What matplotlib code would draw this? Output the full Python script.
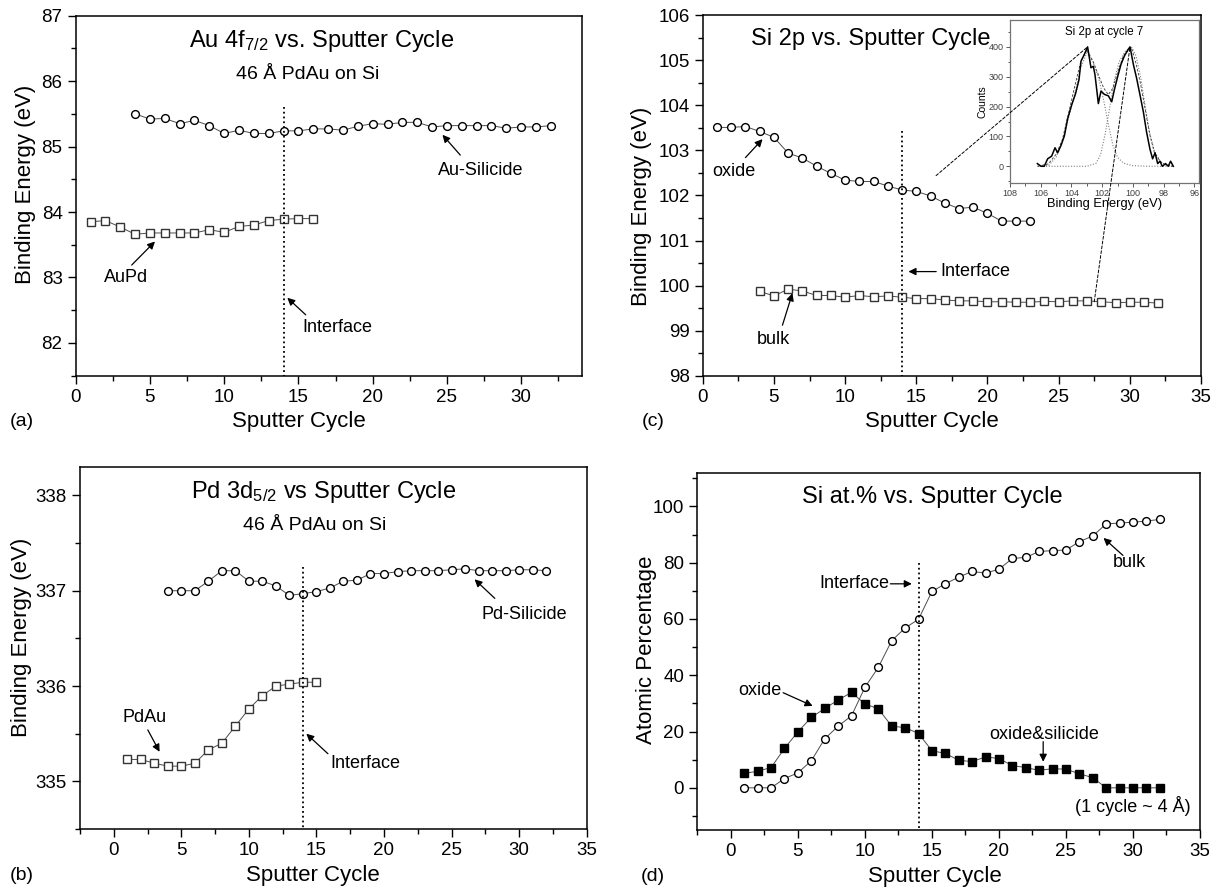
import numpy as np
import matplotlib
matplotlib.use("Agg")
from matplotlib import pyplot as plt
from matplotlib.patches import ConnectionPatch
from matplotlib.ticker import MultipleLocator

plt.rcParams['font.family'] = ['Liberation Sans', 'DejaVu Sans']
plt.rcParams['mathtext.fontset'] = 'custom'
plt.rcParams['mathtext.rm'] = 'Liberation Sans'
plt.rcParams['mathtext.it'] = 'Liberation Sans:italic'

# ---- data ----
# (a) Au 4f7/2
au_sil_x = list(range(4, 33))
au_sil = [85.50, 85.42, 85.43, 85.35, 85.40, 85.32, 85.20, 85.25, 85.20, 85.20,
          85.24, 85.24, 85.27, 85.27, 85.25, 85.31, 85.35, 85.34, 85.37, 85.37,
          85.30, 85.32, 85.32, 85.32, 85.32, 85.28, 85.30, 85.30, 85.32]
au_pd_x = list(range(1, 17))
au_pd = [83.85, 83.87, 83.77, 83.66, 83.68, 83.68, 83.68, 83.68, 83.73, 83.69,
         83.78, 83.80, 83.87, 83.89, 83.90, 83.90]

# (b) Pd 3d5/2
pd_sil_x = list(range(4, 33))
pd_sil = [337.00, 337.00, 337.00, 337.10, 337.21, 337.21, 337.10, 337.10, 337.05,
          336.95, 336.97, 336.99, 337.03, 337.10, 337.11, 337.18, 337.18, 337.20,
          337.21, 337.21, 337.21, 337.22, 337.23, 337.21, 337.21, 337.21, 337.22,
          337.22, 337.21]
pd_au_x = list(range(1, 16))
pd_au = [335.23, 335.23, 335.19, 335.16, 335.16, 335.19, 335.33, 335.40, 335.58,
         335.76, 335.90, 336.00, 336.02, 336.04, 336.04]

# (c) Si 2p
si_ox_x = list(range(1, 24))
si_ox = [103.51, 103.51, 103.53, 103.42, 103.29, 102.94, 102.83, 102.65, 102.49,
         102.34, 102.31, 102.31, 102.21, 102.12, 102.09, 101.99, 101.83, 101.71,
         101.74, 101.60, 101.43, 101.43, 101.43]
si_bulk_x = list(range(4, 33))
si_bulk = [99.87, 99.77, 99.92, 99.88, 99.78, 99.78, 99.74, 99.78, 99.75, 99.77,
           99.74, 99.71, 99.71, 99.68, 99.66, 99.66, 99.64, 99.64, 99.63, 99.63,
           99.65, 99.64, 99.66, 99.66, 99.64, 99.62, 99.63, 99.63, 99.61]

# inset: Si 2p spectrum at cycle 7
spec_be = [106.22, 105.98, 105.77, 105.55, 105.29, 105.07, 104.90, 104.68, 104.46,
           104.25, 103.99, 103.73, 103.51, 103.38, 103.16, 102.95, 102.73, 102.58,
           102.47, 102.25, 102.08, 101.86, 101.60, 101.38, 101.21, 100.99, 100.78,
           100.56, 100.34, 100.19, 99.97, 99.76, 99.54, 99.32, 99.11, 98.89, 98.72,
           98.56, 98.39, 98.24, 98.09, 97.87, 97.70, 97.55, 97.37]
spec_cts = [9, 0, 0, 25, 34, 62, 45, 70, 102, 159, 205, 244, 290, 352, 375, 400, 330,
            335, 307, 210, 252, 241, 236, 216, 256, 301, 341, 369, 389, 400, 341, 295,
            239, 182, 114, 57, 25, 45, 9, 17, 0, 9, 0, 17, 0]
fit_ox_be = [106.2, 105.5, 105.0, 104.6, 104.2, 103.8, 103.4, 103.0, 102.6, 102.2,
             101.9, 101.6, 101.3, 101.0, 100.6, 100.0, 99.0, 97.4]
fit_ox = [0, 2, 30, 80, 160, 240, 330, 380, 350, 290, 220, 140, 70, 30, 10, 2, 0, 0]
fit_si_be = [106.2, 103.0, 102.4, 102.1, 101.8, 101.5, 101.2, 100.9, 100.5, 100.1,
             99.8, 99.5, 99.2, 98.9, 98.6, 98.2, 97.8, 97.4]
fit_si = [0, 0, 10, 40, 110, 200, 290, 350, 385, 400, 370, 300, 200, 110, 50, 15, 3, 0]
fit_sum_be = [106.2, 105.5, 105.0, 104.6, 104.2, 103.8, 103.4, 103.0, 102.6, 102.2,
              101.9, 101.6, 101.3, 101.0, 100.6, 100.1, 99.8, 99.5, 99.2, 98.9,
              98.6, 98.2, 97.8, 97.4]
fit_sum = [0, 8, 40, 88, 175, 265, 350, 390, 352, 300, 262, 240, 262, 315, 372, 398,
           345, 275, 190, 105, 45, 15, 3, 0]

# (d) Si atomic percentage
at_x = list(range(1, 33))
at_bulk = [0, 0, 0, 3.3, 5.3, 9.6, 17.4, 21.9, 25.6, 35.7, 42.8, 52.3, 56.8, 59.9,
           69.8, 72.5, 74.9, 76.9, 76.3, 77.7, 81.5, 81.9, 84.0, 84.3, 84.5, 87.5,
           89.5, 93.8, 94.1, 94.4, 94.8, 95.4]
at_ox = [5.1, 5.9, 7.2, 14.0, 19.9, 25.0, 28.2, 31.2, 33.9, 29.8, 28.1, 21.9, 21.4,
         19.3, 13.2, 12.2, 9.8, 9.3, 11.0, 10.4, 7.9, 7.2, 6.2, 6.8, 6.6, 5.0, 3.6,
         0, 0, 0, 0, 0]

interface = 14

# ---- figure ----
fig = plt.figure(figsize=(12.23, 8.9), dpi=100)
axa = fig.add_axes([0.0619, 0.5779, 0.414, 0.4045])
axb = fig.add_axes([0.0654, 0.0685, 0.4143, 0.4070])
axc = fig.add_axes([0.5746, 0.5779, 0.4074, 0.4050])
axd = fig.add_axes([0.5702, 0.0674, 0.4110, 0.4015])

LW = 0.7
LC = '0.3'
MS = 5.6
open_kw = dict(mfc='white', mec='k', mew=1.0, ms=MS, color=LC, lw=LW)
arrow = dict(arrowstyle='-|>', color='k', lw=0.9, mutation_scale=11,
             shrinkA=0, shrinkB=0)
TFS = 17
SFS = 14
AFS = 13


def style(ax, xlim, ylim, ymaj, ymin, ylabel, yl_pos, xl_pos):
    ax.set_xlim(*xlim)
    ax.set_ylim(*ylim)
    ax.xaxis.set_major_locator(MultipleLocator(5))
    ax.xaxis.set_minor_locator(MultipleLocator(2.5))
    ax.yaxis.set_major_locator(MultipleLocator(ymaj))
    ax.yaxis.set_minor_locator(MultipleLocator(ymin))
    ax.tick_params(which='both', direction='out', top=False, right=False,
                   labelsize=13.5, width=1.0)
    ax.tick_params(which='major', length=6)
    ax.tick_params(which='minor', length=3.5)
    for s in ax.spines.values():
        s.set_linewidth(1.1)
    ax.set_ylabel(ylabel, fontsize=16, va='center')
    ax.yaxis.set_label_coords(*yl_pos)
    ax.set_xlabel('Sputter Cycle', fontsize=16, va='center')
    ax.xaxis.set_label_coords(*xl_pos)


# (a)
axa.plot(au_sil_x, au_sil, marker='o', **open_kw)
axa.plot(au_pd_x, au_pd, marker='s', **dict(open_kw, mec='0.2', ms=5.2))
axa.plot([interface, interface], [85.6, 81.5], 'k:', lw=1.3)
style(axa, (0, 34.1), (81.5, 87), 1, 0.5, 'Binding Energy (eV)',
      (-0.100, 0.53), (0.44, -0.128))
axa.text(0.486, 0.914, r'Au 4f$_\mathrm{7/2}$ vs. Sputter Cycle', transform=axa.transAxes,
         ha='center', va='baseline', fontsize=TFS)
axa.text(0.459, 0.824, '46 Å PdAu on Si', transform=axa.transAxes,
         ha='center', va='baseline', fontsize=SFS)
axa.text(3.4, 83.0, 'AuPd', ha='center', va='center', fontsize=AFS)
axa.annotate('', xy=(5.34, 83.55), xytext=(3.77, 83.19), arrowprops=arrow)
axa.text(17.6, 82.23, 'Interface', ha='center', va='center', fontsize=AFS)
axa.annotate('', xy=(14.25, 82.69), xytext=(15.49, 82.43), arrowprops=arrow)
axa.text(27.3, 84.64, 'Au-Silicide', ha='center', va='center', fontsize=AFS)
axa.annotate('', xy=(24.7, 85.18), xytext=(25.9, 84.87), arrowprops=arrow)

# (b)
axb.plot(pd_sil_x, pd_sil, marker='o', **open_kw)
axb.plot(pd_au_x, pd_au, marker='s', **dict(open_kw, mec='0.2', ms=5.2))
axb.plot([interface, interface], [337.25, 334.5], 'k:', lw=1.3)
style(axb, (-2.5, 35), (334.5, 338.3), 1, 0.5, 'Binding Energy (eV)',
      (-0.115, 0.53), (0.46, -0.127))
axb.text(0.481, 0.913, r'Pd 3d$_\mathrm{5/2}$ vs Sputter Cycle', transform=axb.transAxes,
         ha='center', va='baseline', fontsize=TFS)
axb.text(0.463, 0.825, '46 Å PdAu on Si', transform=axb.transAxes,
         ha='center', va='baseline', fontsize=SFS)
axb.text(2.27, 335.67, 'PdAu', ha='center', va='center', fontsize=AFS)
axb.annotate('', xy=(3.39, 335.31), xytext=(2.52, 335.54), arrowprops=arrow)
axb.text(18.6, 335.19, 'Interface', ha='center', va='center', fontsize=AFS)
axb.annotate('', xy=(14.25, 335.5), xytext=(15.85, 335.29), arrowprops=arrow)
axb.text(30.4, 336.75, 'Pd-Silicide', ha='center', va='center', fontsize=AFS)
axb.annotate('', xy=(26.7, 337.12), xytext=(28.2, 336.92), arrowprops=arrow)

# (c)
axc.plot(si_ox_x, si_ox, marker='o', **open_kw)
axc.plot(si_bulk_x, si_bulk, marker='s', **dict(open_kw, mec='0.2', ms=5.2))
axc.plot([interface, interface], [103.42, 98], 'k:', lw=1.3)
style(axc, (0, 35), (98, 106), 1, 0.5, 'Binding Energy (eV)',
      (-0.122, 0.47), (0.46, -0.128))
axc.text(0.338, 0.918, 'Si 2p vs. Sputter Cycle', transform=axc.transAxes,
         ha='center', va='baseline', fontsize=TFS)
axc.text(2.2, 102.53, 'oxide', ha='center', va='center', fontsize=AFS)
axc.annotate('', xy=(4.2, 103.25), xytext=(3.0, 102.84), arrowprops=arrow)
axc.text(5.0, 98.8, 'bulk', ha='center', va='center', fontsize=AFS)
axc.annotate('', xy=(6.3, 99.83), xytext=(5.6, 99.12), arrowprops=arrow)
axc.text(16.7, 100.31, 'Interface', ha='left', va='center', fontsize=AFS)
axc.annotate('', xy=(14.45, 100.31), xytext=(16.4, 100.31), arrowprops=arrow)

# inset
x0, x1, y0, y1 = 1010, 1199, 20, 182.7
axi = fig.add_axes([x0 / 1223, 1 - y1 / 890, (x1 - x0) / 1223, (y1 - y0) / 890])
axi.plot(fit_ox_be, fit_ox, color='0.5', ls=(0, (1, 1.5)), lw=0.8)
axi.plot(fit_si_be, fit_si, color='0.5', ls=(0, (1, 1.5)), lw=0.8)
axi.plot(fit_sum_be, fit_sum, color='0.2', ls=(0, (3, 2)), lw=0.6)
axi.plot(spec_be, spec_cts, color='k', lw=1.1)
axi.set_xlim(108, 95.7)
axi.set_ylim(-55, 490)
axi.xaxis.set_major_locator(MultipleLocator(2))
axi.xaxis.set_minor_locator(MultipleLocator(1))
axi.yaxis.set_major_locator(MultipleLocator(100))
axi.yaxis.set_minor_locator(MultipleLocator(50))
axi.tick_params(which='both', direction='out', labelsize=6.5, width=0.6,
                colors='0.25', pad=1.5)
axi.tick_params(which='major', length=3)
axi.tick_params(which='minor', length=1.8)
for s in axi.spines.values():
    s.set_color('0.45')
    s.set_linewidth(0.9)
axi.set_xlabel('Binding Energy (eV)', fontsize=9.3, labelpad=0)
axi.set_ylabel('Counts', fontsize=7.5, labelpad=1)
axi.text(0.5, 0.926, 'Si 2p at cycle 7', transform=axi.transAxes, ha='center',
         va='center', fontsize=8.3)

# connector lines from main plot to inset peaks
conn_from = [(16.39, 102.44), (27.5, 99.64)]
conn_to = [(102.95, 400), (100.19, 400)]
for pa, pb in zip(conn_from, conn_to):
    cp = ConnectionPatch(xyA=pa, coordsA=axc.transData, xyB=pb, coordsB=axi.transData,
                         ls=(0, (3, 2)), lw=0.7, color='k')
    fig.add_artist(cp)

# (d)
axd.plot(at_x, at_bulk, marker='o', **open_kw)
axd.plot(at_x, at_ox, marker='s', mfc='k', mec='k', ms=6.0, color=LC, lw=LW)
axd.plot([interface, interface], [79.9, -15], 'k:', lw=1.3)
style(axd, (-2.5, 35), (-15, 112), 20, 10, 'Atomic Percentage',
      (-0.101, 0.504), (0.473, -0.131))
axd.text(0.468, 0.914, 'Si at.% vs. Sputter Cycle', transform=axd.transAxes,
         ha='center', va='baseline', fontsize=TFS)
axd.text(11.8, 72.5, 'Interface', ha='right', va='center', fontsize=AFS)
axd.annotate('', xy=(13.5, 72.5), xytext=(11.9, 72.5), arrowprops=arrow)
axd.text(2.2, 34.5, 'oxide', ha='center', va='center', fontsize=AFS)
axd.annotate('', xy=(6.1, 29.1), xytext=(3.9, 33.8), arrowprops=arrow)
axd.text(23.4, 18.8, 'oxide&silicide', ha='center', va='center', fontsize=AFS)
axd.annotate('', xy=(23.3, 9.25), xytext=(23.3, 16.4), arrowprops=arrow)
axd.text(29.7, 79.9, 'bulk', ha='center', va='center', fontsize=AFS)
axd.annotate('', xy=(27.8, 88.8), xytext=(29.25, 82.6), arrowprops=arrow)
axd.text(34.3, -6.5, '(1 cycle ~ 4 Å)', ha='right', va='center', fontsize=AFS)

# panel labels
for lab, (px, py) in zip(['(a)', '(b)', '(c)', '(d)'],
                         [(21.7, 421.7), (21.7, 875), (653.3, 421.7), (653.3, 876.7)]):
    fig.text(px / 1223, 1 - py / 890, lab, ha='center', va='center', fontsize=14)

fig.savefig('out.png', dpi=100)
